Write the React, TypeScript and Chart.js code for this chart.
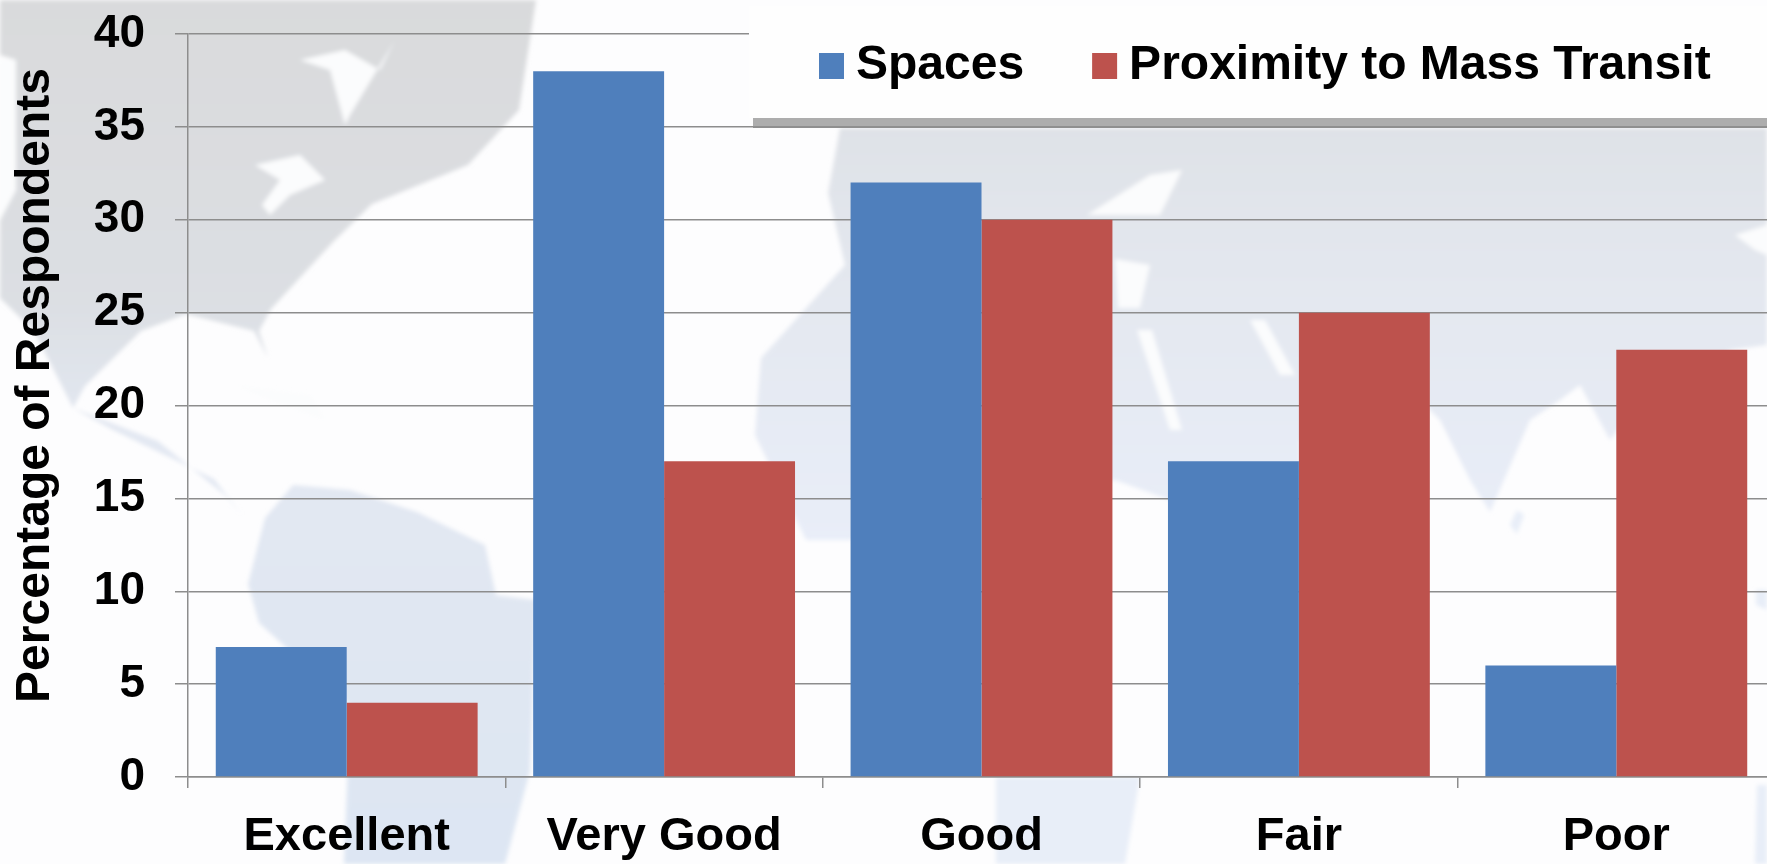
import React, { useEffect, useRef } from "react";
import { Chart, registerables } from "chart.js";

Chart.register(...registerables);

const categories = ["Excellent", "Very Good", "Good", "Fair", "Poor"];
const spaces = [7, 38, 32, 17, 6];
const proximity = [4, 17, 30, 25, 23];
const seriesNames = ["Spaces", "Proximity to Mass Transit"];
const axisTitle = "Percentage of Respondents";

const FONT = '"Liberation Sans", Arial, sans-serif';
const BLUE = "#4f7fbc";
const RED = "#bd524d";
const GRID = "#8d8d8d";

// Decorative world-map backdrop (full-size pixel coordinates)
const westLand = [
  "0,0 536,0 519,110 468,165 372,204 333,242 271,309 259,331 268,358 254,331 186,314 141,331 85,386 73,408 113,430 169,457 214,479 242,515 226,496 158,441 73,408 34,331 0,298 0,220 16,190 16,60 0,55",
  "293,485 350,490 417,512 485,545 496,595 536,600 530,771 505,864 344,864 350,705 259,623 248,584 265,518",
];
const eastLand = [
  "840,128 1767,128 1767,345 1730,350 1700,380 1640,400 1610,440 1580,385 1560,400 1530,420 1490,512 1470,480 1440,420 1425,405 1300,440 1300,500 1170,500 1115,480 1000,500 850,540 806,540 755,435 761,358 845,265 828,193",
  "996,777 1140,777 1125,864 996,864",
  "1100,777 1137,777 1130,810 1112,810",
  "1756,590 1767,590 1767,610 1756,605",
  "1757,785 1767,785 1767,864 1755,864",
  "1517,510 1524,515 1517,534 1510,525",
];
const holes = [
  "300,60 345,50 380,70 395,40 350,115 345,125 330,70",
  "255,165 300,155 325,180 290,195 270,215 262,205 280,180",
  "0,60 16,60 16,190 0,220",
  "235,385 310,395 325,420 270,400",
  "1087,215 1150,175 1182,170 1160,215",
  "1115,259 1150,265 1140,308 1118,308",
  "1137,330 1152,330 1182,430 1170,430",
  "1250,320 1265,320 1295,375 1280,375",
  "1735,235 1767,225 1767,255 1755,250",
];

const legendPanel = {
  id: "legendPanel",
  afterLayout(chart: any) {
    chart.legend.left = 751;
    chart.legend.right = 4000;
    chart.legend.top = -38;
    chart.legend.bottom = 118;
    const y = chart.scales.y;
    if (!y.__shifted) {
      y.__shifted = true;
      const original = y.drawTitle;
      y.drawTitle = function () {
        this.ctx.save();
        this.ctx.translate(0, -20);
        original.call(this);
        this.ctx.restore();
      };
    }
  },
  beforeDatasetsDraw(chart: any) {
    const { ctx } = chart;
    ctx.save();
    ctx.fillStyle = "#fefefe";
    ctx.fillRect(749, 6, 1041, 112);
    ctx.fillStyle = "#adadad";
    ctx.fillRect(753, 118, 1037, 8);
    ctx.fillStyle = "#8f8f8f";
    ctx.fillRect(753, 126, 1037, 2);
    ctx.restore();
    chart.legend.draw();
  },
};

export default function App() {
  const ref = useRef<HTMLCanvasElement>(null);
  useEffect(() => {
    const chart = new Chart(ref.current!, {
      type: "bar",
      data: {
        labels: categories,
        datasets: [
          { label: seriesNames[0], data: spaces, backgroundColor: BLUE },
          { label: seriesNames[1], data: proximity, backgroundColor: RED },
        ],
      },
      plugins: [legendPanel],
      options: {
        animation: false,
        responsive: false,
        layout: { autoPadding: false, padding: { top: 33, right: 15, left: 0, bottom: 0 } },
        datasets: { bar: { categoryPercentage: 0.825, barPercentage: 1 } },
        plugins: {
          tooltip: { enabled: false },
          legend: {
            position: "top",
            align: "start",
            maxHeight: 1,
            labels: {
              boxWidth: 1,
              boxHeight: 2,
              padding: 80,
              color: "#000",
              font: { family: FONT, size: 48, weight: "bold" },
              generateLabels: (c: any) =>
                c.data.datasets.map((d: any, i: number) => ({
                  text: d.label,
                  fillStyle: d.backgroundColor,
                  strokeStyle: d.backgroundColor,
                  lineWidth: 24,
                  datasetIndex: i,
                  hidden: false,
                })),
            },
          },
        },
        scales: {
          x: {
            afterFit: (s: any) => {
              s.height = 87;
            },
            grid: { drawOnChartArea: false, drawTicks: true, tickLength: 11, color: GRID, lineWidth: 1.5 },
            border: { color: GRID, width: 1.5 },
            ticks: {
              color: "#000",
              padding: 21,
              maxRotation: 0,
              autoSkip: false,
              font: { family: FONT, size: 47, weight: "bold" },
            },
          },
          y: {
            min: 0,
            max: 40,
            afterFit: (s: any) => {
              s.width = 188;
              s.paddingTop = 0;
              s.paddingBottom = 0;
            },
            title: {
              display: true,
              text: axisTitle,
              color: "#000",
              padding: { top: 7, bottom: 0 },
              font: { family: FONT, size: 48, weight: "bold" },
            },
            grid: { color: GRID, lineWidth: 1.5, tickLength: 13 },
            border: { color: GRID, width: 1.5 },
            ticks: {
              stepSize: 5,
              color: "#000",
              padding: 30,
              font: { family: FONT, size: 46, weight: "bold" },
            },
          },
        },
      } as any,
    });
    return () => chart.destroy();
  }, []);

  return (
    <div
      style={{
        position: "fixed",
        left: 0,
        top: 0,
        width: 1767,
        height: 864,
        overflow: "hidden",
        background: "#fdfdfe",
      }}
    >
      <svg width={1767} height={864} viewBox="0 0 1767 864" style={{ position: "absolute", left: 0, top: 0 }}>
        <defs>
          <linearGradient id="landWest" gradientUnits="userSpaceOnUse" x1="0" y1="0" x2="0" y2="864">
            <stop offset="0" stopColor="#d9dadc" />
            <stop offset="0.35" stopColor="#dcdfe3" />
            <stop offset="0.5" stopColor="#e3e8f2" />
            <stop offset="1" stopColor="#dde6f3" />
          </linearGradient>
          <linearGradient id="landEast" gradientUnits="userSpaceOnUse" x1="0" y1="128" x2="0" y2="560">
            <stop offset="0" stopColor="#dfe2e7" />
            <stop offset="0.4" stopColor="#e4e8f0" />
            <stop offset="1" stopColor="#e9eef9" />
          </linearGradient>
          <filter id="soft">
            <feGaussianBlur stdDeviation="2" />
          </filter>
        </defs>
        <g filter="url(#soft)">
          {westLand.map((p, i) => (
            <polygon key={i} points={p} fill="url(#landWest)" />
          ))}
          {eastLand.map((p, i) => (
            <polygon key={i} points={p} fill={i === 0 ? "url(#landEast)" : "#e8eef8"} />
          ))}
          {holes.map((p, i) => (
            <polygon key={i} points={p} fill="#fbfcfd" />
          ))}
        </g>
      </svg>
      <canvas ref={ref} width={1790} height={864} style={{ position: "absolute", left: 0, top: 0 }} />
    </div>
  );
}
